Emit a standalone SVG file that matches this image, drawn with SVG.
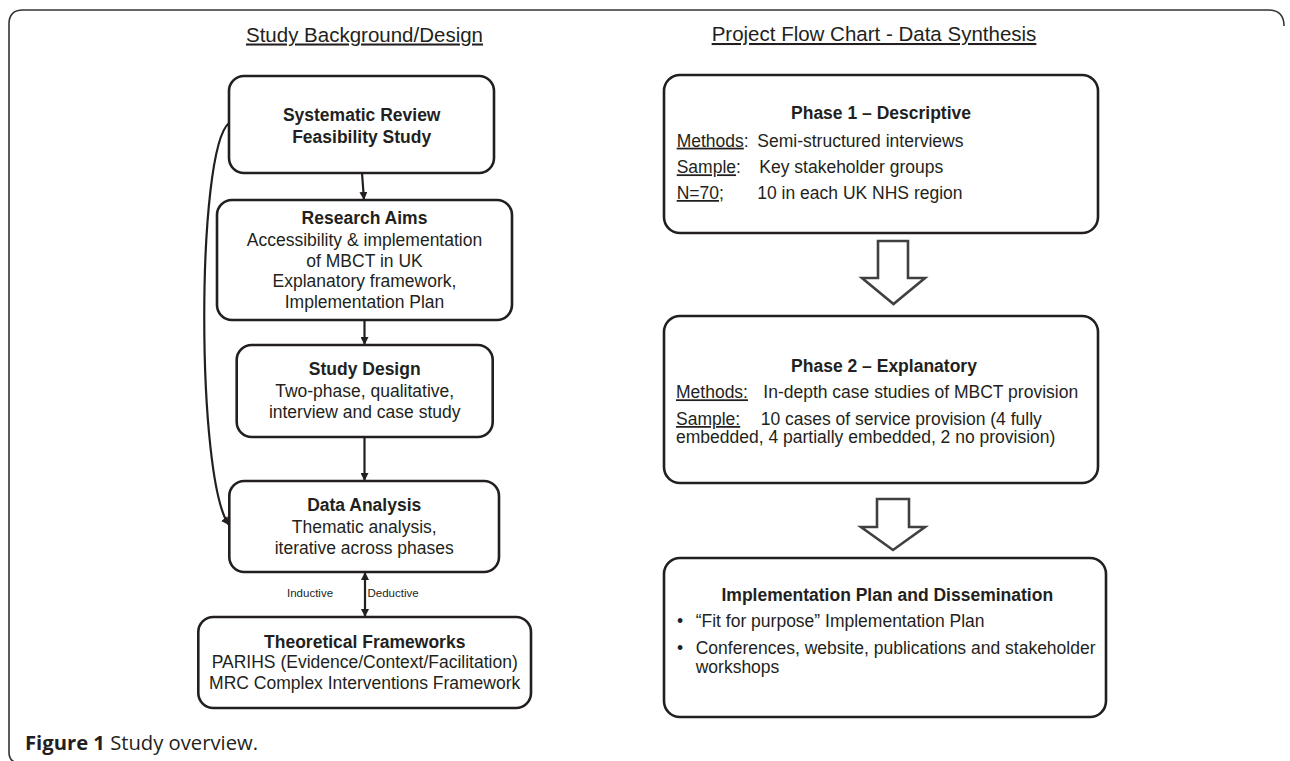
<svg xmlns="http://www.w3.org/2000/svg" width="1290" height="761" viewBox="0 0 1290 761">
<style>
  .box { fill: #ffffff; stroke: #231f20; stroke-width: 2.6; }
  .t { font-family: "Liberation Sans", Arial, sans-serif; font-size: 17.5px; fill: #231f20; }
  .b { font-weight: bold; }
  .c { text-anchor: middle; }
  .title { font-family: "Liberation Sans", Arial, sans-serif; font-size: 20.5px; fill: #231f20; text-anchor: middle; text-decoration: underline; }
  .small { font-family: "Liberation Sans", Arial, sans-serif; font-size: 11.5px; fill: #231f20; }
  .u { text-decoration: underline; }
  .conn { fill: none; stroke: #231f20; stroke-width: 2.2; }
  .hollow { fill: #ffffff; stroke: #404040; stroke-width: 2.6; stroke-linejoin: miter; }
  .frame { fill: none; stroke: #333333; stroke-width: 1.6; }
  .cap { font-family: "Open Sans", "Noto Sans", sans-serif; font-size: 19.5px; fill: #231f20; }
</style>
<defs>
  <marker id="ah" viewBox="0 0 10 10" refX="10" refY="5" markerWidth="8" markerHeight="8" markerUnits="userSpaceOnUse" orient="auto-start-reverse">
    <path d="M0,0 L10,5 L0,10 z" fill="#231f20"/>
  </marker>
</defs>
<rect width="1290" height="761" fill="#ffffff"/>
<path class="frame" d="M1284,26 Q1284,10 1268,10 L23,10 Q9,10 9,24 L9,752 Q9,763 20,763"/>

<text class="title" x="364.5" y="41.5">Study Background/Design</text>
<text class="title" x="874" y="41">Project Flow Chart - Data Synthesis</text>

<g id="connectors">
  <path class="conn" d="M362,173 L364,200" marker-end="url(#ah)"/>
  <path class="conn" d="M364.5,320 L364.5,345" marker-end="url(#ah)"/>
  <path class="conn" d="M364.5,437 L364.5,481" marker-end="url(#ah)"/>
  <path class="conn" d="M229,123 C196,150 196,480 229,525" marker-end="url(#ah)"/>
  <path class="conn" d="M365,572 L365,617" marker-start="url(#ah)" marker-end="url(#ah)"/>
  <text class="small" x="287" y="597">Inductive</text>
  <text class="small" x="367.5" y="597">Deductive</text>
  <polygon class="hollow" points="878,241 908,241 908,278 925,278 893.5,304 862,278 878,278"/>
  <polygon class="hollow" points="877,499 909,499 909,527 925,527 893,550 861,527 877,527"/>
</g>

<g id="systematic-review">
  <rect class="box" x="229" y="76" width="265" height="97" rx="15"/>
  <text class="t b c" x="361.7" y="121">Systematic Review</text>
  <text class="t b c" x="361.7" y="142.7">Feasibility Study</text>
</g>
<g id="research-aims">
  <rect class="box" x="217" y="200" width="295" height="120" rx="15"/>
  <text class="t b c" x="364.5" y="224">Research Aims</text>
  <text class="t c" x="364.5" y="246">Accessibility &amp; implementation</text>
  <text class="t c" x="364.5" y="266.7">of MBCT in UK</text>
  <text class="t c" x="364.5" y="287.3">Explanatory framework,</text>
  <text class="t c" x="364.5" y="308">Implementation Plan</text>
</g>
<g id="study-design">
  <rect class="box" x="236.7" y="345" width="256" height="92" rx="15"/>
  <text class="t b c" x="364.7" y="375">Study Design</text>
  <text class="t c" x="364.7" y="396.7">Two-phase, qualitative,</text>
  <text class="t c" x="364.7" y="418.3">interview and case study</text>
</g>
<g id="data-analysis">
  <rect class="box" x="229.3" y="481" width="269.7" height="91" rx="15"/>
  <text class="t b c" x="364.2" y="511">Data Analysis</text>
  <text class="t c" x="364.2" y="533.3">Thematic analysis,</text>
  <text class="t c" x="364.2" y="554.3">iterative across phases</text>
</g>
<g id="theoretical-frameworks">
  <rect class="box" x="198.3" y="617" width="332.7" height="91" rx="15"/>
  <text class="t b c" x="364.7" y="647.7">Theoretical Frameworks</text>
  <text class="t c" x="364.7" y="668.3">PARIHS (Evidence/Context/Facilitation)</text>
  <text class="t c" x="364.7" y="688.5">MRC Complex Interventions Framework</text>
</g>

<g id="phase1">
  <rect class="box" x="664" y="75" width="434" height="158" rx="16"/>
  <text class="t b c" x="881" y="119.3">Phase 1 – Descriptive</text>
  <text class="t" x="676.7" y="146.7"><tspan class="u">Methods</tspan>:</text>
  <text class="t" x="757.3" y="146.7">Semi-structured interviews</text>
  <text class="t" x="676.7" y="173.3"><tspan class="u">Sample</tspan>:</text>
  <text class="t" x="759.3" y="173.3">Key stakeholder groups</text>
  <text class="t" x="676.7" y="199"><tspan class="u">N=70</tspan>;</text>
  <text class="t" x="757.3" y="199">10 in each UK NHS region</text>
</g>
<g id="phase2">
  <rect class="box" x="664" y="316" width="434" height="167" rx="16"/>
  <text class="t b c" x="884" y="371.7">Phase 2 – Explanatory</text>
  <text class="t" x="676" y="398.3"><tspan class="u">Methods:</tspan></text>
  <text class="t" x="763.3" y="398.3">In-depth case studies of MBCT provision</text>
  <text class="t" x="676" y="425"><tspan class="u">Sample:</tspan></text>
  <text class="t" x="760.7" y="425">10 cases of service provision (4 fully</text>
  <text class="t" x="676" y="443.3">embedded, 4 partially embedded, 2 no provision)</text>
</g>
<g id="implementation">
  <rect class="box" x="664" y="558" width="442" height="159" rx="16"/>
  <text class="t b c" x="887.3" y="601">Implementation Plan and Dissemination</text>
  <text class="t" x="677" y="626.7">•</text>
  <text class="t" x="695.7" y="626.7">“Fit for purpose” Implementation Plan</text>
  <text class="t" x="677" y="654.3">•</text>
  <text class="t" x="695.7" y="654.3">Conferences, website, publications and stakeholder</text>
  <text class="t" x="695.7" y="672.7">workshops</text>
</g>

<text class="cap" x="25" y="750" textLength="233" lengthAdjust="spacingAndGlyphs"><tspan font-weight="bold">Figure 1</tspan> Study overview.</text>
</svg>
